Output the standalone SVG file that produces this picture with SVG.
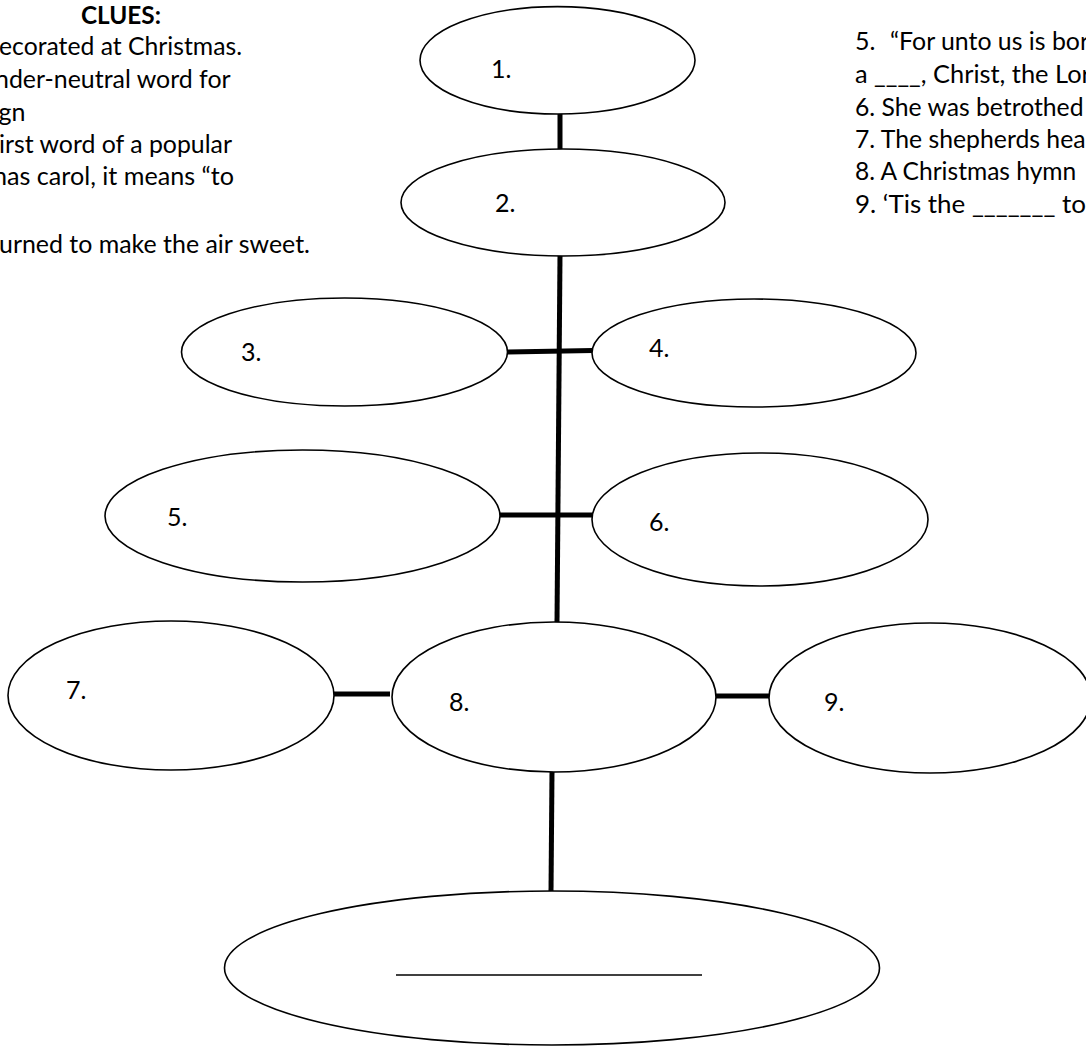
<svg xmlns="http://www.w3.org/2000/svg" width="1086" height="1050" viewBox="0 0 1086 1050">
<style>
  .bg { fill: #ffffff; }
  .node ellipse { fill: #ffffff; stroke: #000000; stroke-width: 1.6; }
  .lbl { font-family: "Lato", "Liberation Sans", sans-serif; font-size: 25px; fill: #000000; }
  .clue { font-family: "Lato", "Liberation Sans", sans-serif; font-size: 25px; fill: #000000; }
  .head { font-family: "Lato", "Liberation Sans", sans-serif; font-size: 25px; font-weight: bold; fill: #000000; }
  .conn line { stroke: #000000; stroke-width: 5; stroke-linecap: butt; }
  .blank { stroke: #000000; stroke-width: 1.5; }
</style>
<rect class="bg" x="0" y="0" width="1086" height="1050"/>

<g id="clues-left">
  <text class="head" x="121" y="24" text-anchor="middle" textLength="80" lengthAdjust="spacingAndGlyphs">CLUES:</text>
  <text class="clue" x="-1" y="55" textLength="243" lengthAdjust="spacingAndGlyphs">ecorated at Christmas.</text>
  <text class="clue" x="-5" y="88" textLength="235.6" lengthAdjust="spacingAndGlyphs">nder-neutral word for</text>
  <text class="clue" x="-1.5" y="121">gn</text>
  <text class="clue" x="-1" y="153" textLength="233" lengthAdjust="spacingAndGlyphs">irst word of a popular</text>
  <text class="clue" x="-7" y="185" textLength="241" lengthAdjust="spacingAndGlyphs">nas carol, it means “to</text>
  <text class="clue" x="-1" y="253" textLength="311" lengthAdjust="spacingAndGlyphs">urned to make the air sweet.</text>
</g>

<g id="clues-right">
  <text class="clue" x="855" y="50">5.</text>
  <text class="clue" x="890" y="50" textLength="212.8" lengthAdjust="spacingAndGlyphs">“For unto us is born</text>
  <text class="clue" x="855" y="83" textLength="249.5" lengthAdjust="spacingAndGlyphs">a ____, Christ, the Lord</text>
  <text class="clue" x="855" y="116" textLength="228.5" lengthAdjust="spacingAndGlyphs">6. She was betrothed</text>
  <text class="clue" x="855" y="148" textLength="253" lengthAdjust="spacingAndGlyphs">7. The shepherds heard</text>
  <text class="clue" x="855" y="180" textLength="221.2" lengthAdjust="spacingAndGlyphs">8. A Christmas hymn</text>
  <text class="clue" x="855" y="213" textLength="231" lengthAdjust="spacingAndGlyphs">9. ‘Tis the _______ to</text>
</g>

<g id="connectors" class="conn">
  <line x1="560" y1="113" x2="560" y2="150"/>
  <line x1="560" y1="255" x2="557" y2="623"/>
  <line x1="507" y1="352" x2="593" y2="350.5"/>
  <line x1="499" y1="515" x2="593" y2="515"/>
  <line x1="333" y1="694" x2="390" y2="694"/>
  <line x1="715" y1="696" x2="770" y2="696"/>
  <line x1="552" y1="771" x2="551" y2="892"/>
</g>

<g id="node-1" class="node">
  <ellipse cx="557.5" cy="60.3" rx="137.5" ry="53.7"/>
  <text class="lbl" x="491" y="78">1.</text>
</g>
<g id="node-2" class="node">
  <ellipse cx="563" cy="202.5" rx="162" ry="53.5"/>
  <text class="lbl" x="495" y="212">2.</text>
</g>
<g id="node-3" class="node">
  <ellipse cx="344.5" cy="352" rx="163" ry="54"/>
  <text class="lbl" x="241" y="361">3.</text>
</g>
<g id="node-4" class="node">
  <ellipse cx="754" cy="353" rx="162" ry="54"/>
  <text class="lbl" x="649" y="357">4.</text>
</g>
<g id="node-5" class="node">
  <ellipse cx="302.5" cy="516" rx="197.5" ry="66"/>
  <text class="lbl" x="167" y="526">5.</text>
</g>
<g id="node-6" class="node">
  <ellipse cx="760" cy="519.5" rx="168" ry="66.5"/>
  <text class="lbl" x="649" y="531">6.</text>
</g>
<g id="node-7" class="node">
  <ellipse cx="171" cy="695.5" rx="163" ry="74.5"/>
  <text class="lbl" x="66" y="699">7.</text>
</g>
<g id="node-8" class="node">
  <ellipse cx="554" cy="697" rx="162" ry="75"/>
  <text class="lbl" x="449" y="711">8.</text>
</g>
<g id="node-9" class="node">
  <ellipse cx="930" cy="698" rx="161" ry="75"/>
  <text class="lbl" x="824" y="711">9.</text>
</g>
<g id="node-answer" class="node">
  <ellipse cx="552" cy="968" rx="327.5" ry="77"/>
  <line class="blank" x1="396" y1="975" x2="702" y2="975"/>
</g>
</svg>
